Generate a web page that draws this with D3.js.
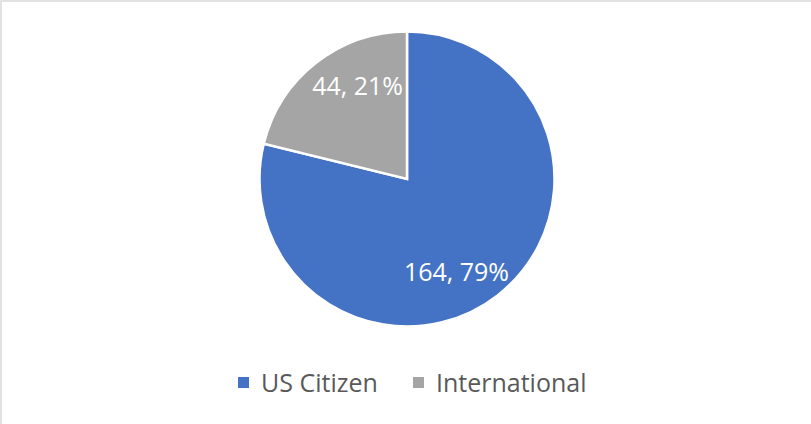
<!DOCTYPE html>
<html><head><meta charset="utf-8">
<script src="https://cdn.jsdelivr.net/npm/d3@7"></script>
<style>body{margin:0;background:#fff}svg{display:block}</style>
</head><body>
<svg id="c" width="811" height="424"></svg>
<script>
const categories = ["US Citizen", "International"];
const values = [164, 44];
const percentLabels = ["79%", "21%"];
const colors = ["#4472C4", "#A5A5A5"];

const W = 811, H = 424;
const svg = d3.select("#c");
svg.append("rect").attr("x", 1).attr("y", 1).attr("width", W + 10).attr("height", H + 10)
  .attr("fill", "#fff").attr("stroke", "#d9d9d9").attr("stroke-width", 1.5);

const cx = 407, cy = 179, R = 147.5;
const data = categories.map((c, i) => ({ cat: c, val: values[i], pct: percentLabels[i], color: colors[i] }));
const pie = d3.pie().value(d => d.val).sort(null);
const arcs = pie(data);
const arc = d3.arc().innerRadius(0).outerRadius(R);
const g = svg.append("g").attr("transform", `translate(${cx},${cy})`);
g.selectAll("path").data(arcs).join("path")
  .attr("d", arc).attr("fill", d => d.data.color)
  .attr("stroke", "#fff").attr("stroke-width", 2.5).attr("stroke-linejoin", "miter");

const labelR = 105, rot = 10 * Math.PI / 180;
g.selectAll("text.lbl").data(arcs).join("text")
  .attr("class", "lbl")
  .attr("x", d => labelR * Math.sin((d.startAngle + d.endAngle) / 2 + rot))
  .attr("y", d => -labelR * Math.cos((d.startAngle + d.endAngle) / 2 + rot))
  .attr("text-anchor", "middle").attr("dy", "0.36em")
  .attr("font-family", "'Open Sans', sans-serif").attr("font-size", 25)
  .attr("fill", "#fff")
  .text(d => `${d.data.val}, ${d.data.pct}`);

// legend
const legend = svg.append("g").attr("font-family", "'Open Sans', sans-serif").attr("font-size", 25).attr("fill", "#595959");
const legX = [238, 413];
data.forEach((d, i) => {
  legend.append("rect").attr("x", legX[i]).attr("y", 377).attr("width", 11).attr("height", 11).attr("fill", d.color);
  legend.append("text").attr("x", legX[i] + 23).attr("y", 392).text(d.cat);
});
</script>
</body></html>
